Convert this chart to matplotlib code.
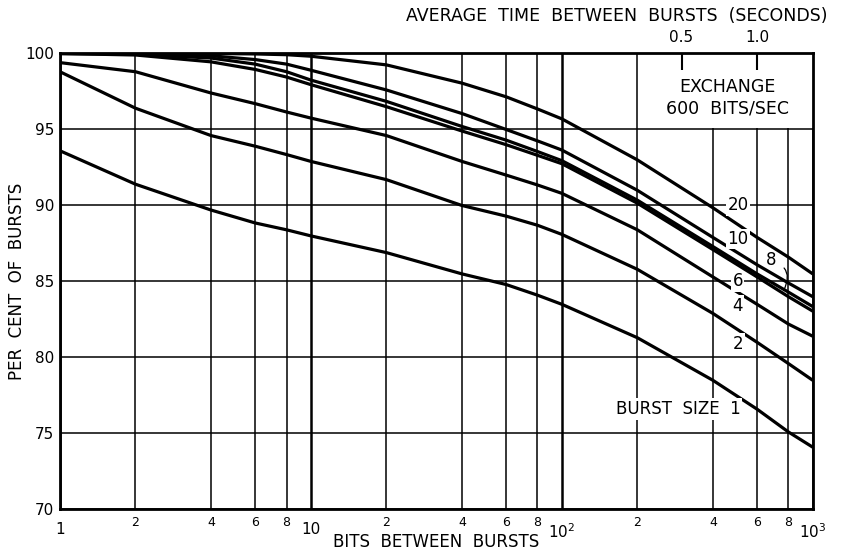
import numpy as np
import matplotlib
matplotlib.use("Agg")
import matplotlib.pyplot as plt
from matplotlib.ticker import FixedLocator, FixedFormatter, NullLocator
from matplotlib.patches import Rectangle

# Bits between bursts (log axis)
bits = [1, 2, 4, 6, 8, 10, 20, 40, 60, 80, 100, 200, 400, 600, 800, 1000]

# Per cent of bursts, one list per burst size
size_20 = [100.0, 100.0, 100.0, 99.97, 99.92, 99.82, 99.25, 98.05, 97.15, 96.35, 95.7, 93.0, 89.85, 87.9, 86.6, 85.5]
size_10 = [100.0, 100.0, 99.85, 99.6, 99.3, 98.9, 97.6, 96.05, 95.0, 94.25, 93.65, 91.0, 87.9, 86.1, 84.9, 84.0]
size_8 = [100.0, 99.95, 99.7, 99.3, 98.8, 98.25, 96.85, 95.2, 94.3, 93.55, 92.95, 90.35, 87.3, 85.5, 84.3, 83.35]
size_6 = [100.0, 99.9, 99.45, 98.95, 98.45, 97.95, 96.5, 94.9, 94.0, 93.3, 92.75, 90.15, 87.1, 85.3, 84.0, 83.05]
size_4 = [99.4, 98.8, 97.4, 96.7, 96.15, 95.75, 94.6, 92.9, 92.0, 91.35, 90.8, 88.4, 85.3, 83.5, 82.2, 81.4]
size_2 = [98.8, 96.4, 94.6, 93.9, 93.35, 92.9, 91.7, 90.0, 89.3, 88.7, 88.1, 85.8, 82.9, 81.0, 79.6, 78.5]
size_1 = [93.6, 91.4, 89.7, 88.85, 88.4, 88.0, 86.9, 85.5, 84.8, 84.1, 83.5, 81.3, 78.5, 76.6, 75.1, 74.1]

series = [size_20, size_10, size_8, size_6, size_4, size_2, size_1]

bit_rate = 600  # bits per second at the exchange
y_ticks = [70, 75, 80, 85, 90, 95, 100]
x_major = [1, 10, 100, 1000]
x_major_labels = ["1", "10", "10$^2$", "10$^3$"]
x_minor = [2, 4, 6, 8, 20, 40, 60, 80, 200, 400, 600, 800]
x_minor_labels = ["2", "4", "6", "8"] * 3
time_ticks = [0.5, 1.0]
time_labels = ["0.5", "1.0"]

plt.rcParams["font.family"] = ["DejaVu Sans"]
ink = "black"

fig = plt.figure(figsize=(8.41, 5.52), dpi=100)
ax = fig.add_axes([0.0713, 0.077, 0.8951, 0.8261])
ax.set_xscale("log")
ax.set_xlim(1, 1000)
ax.set_ylim(70, 100)

# grid
ax.xaxis.set_major_locator(FixedLocator(x_major))
ax.xaxis.set_major_formatter(FixedFormatter(x_major_labels))
ax.xaxis.set_minor_locator(FixedLocator(x_minor))
ax.xaxis.set_minor_formatter(FixedFormatter(x_minor_labels))
ax.set_yticks(y_ticks)
ax.set_yticklabels([str(v) for v in y_ticks])
ax.tick_params(axis="x", which="major", length=0, pad=9, labelsize=11)
ax.tick_params(axis="x", which="minor", length=0, pad=5, labelsize=9)
ax.tick_params(axis="y", length=0, pad=4, labelsize=11)
ax.grid(True, which="major", axis="x", color=ink, lw=1.8, zorder=1)
ax.grid(True, which="minor", axis="x", color=ink, lw=1.1, zorder=1)
ax.grid(True, which="major", axis="y", color=ink, lw=1.1, zorder=1)
ax.set_axisbelow(True)
for sp in ax.spines.values():
    sp.set_linewidth(2.0)

# blank panel behind the exchange note
ax.add_patch(Rectangle((205, 95.1), 1000 - 205, 4.9, facecolor="white",
                       edgecolor="none", zorder=1.5))
ax.text(459, 97.1, "EXCHANGE\n600  BITS/SEC", ha="center", va="center",
        fontsize=12.5, linespacing=1.25, zorder=3)

for vals in series:
    ax.plot(bits, vals, color=ink, lw=2.3, solid_capstyle="butt", zorder=4)

# curve labels
lbl = dict(ha="center", va="center", fontsize=12, zorder=5,
           bbox=dict(facecolor="white", edgecolor="none", pad=1.0))
ax.text(503, 90.0, "20", **lbl)
ax.text(503, 87.8, "10", **lbl)
ax.text(503, 85.0, "6", **lbl)
ax.text(503, 83.4, "4", **lbl)
ax.text(503, 80.9, "2", **lbl)
ax.annotate("8", xy=(765, 84.4), xytext=(680, 86.4), ha="center", va="center",
            fontsize=12, zorder=5,
            arrowprops=dict(arrowstyle="-", lw=0.9, color=ink,
                            connectionstyle="arc3,rad=-0.6",
                            shrinkA=5, shrinkB=0))
ax.text(515, 76.6, "BURST  SIZE  1", ha="right", va="center", fontsize=12,
        zorder=5, bbox=dict(facecolor="white", edgecolor="none", pad=1.5))

ax.set_xlabel("BITS  BETWEEN  BURSTS", fontsize=12, va="center")
ax.xaxis.set_label_coords(0.5, -0.071)
ax.set_ylabel("PER  CENT  OF  BURSTS", fontsize=12, va="center")
ax.yaxis.set_label_coords(-0.057, 0.5)

# time scale on top
sec = ax.secondary_xaxis("top", functions=(lambda b: b / bit_rate,
                                           lambda t: t * bit_rate))
sec.set_zorder(6)
sec.xaxis.set_major_locator(FixedLocator(time_ticks))
sec.xaxis.set_major_formatter(FixedFormatter(time_labels))
sec.xaxis.set_minor_locator(NullLocator())
sec.tick_params(axis="x", direction="in", length=12, width=1.5, pad=6,
                labelsize=11)
sec.spines["top"].set_visible(False)
ax.text(0.74, 1.082, "AVERAGE  TIME  BETWEEN  BURSTS  (SECONDS)",
        transform=ax.transAxes, ha="center", va="center", fontsize=12.5)

fig.savefig("out.png", dpi=100)
